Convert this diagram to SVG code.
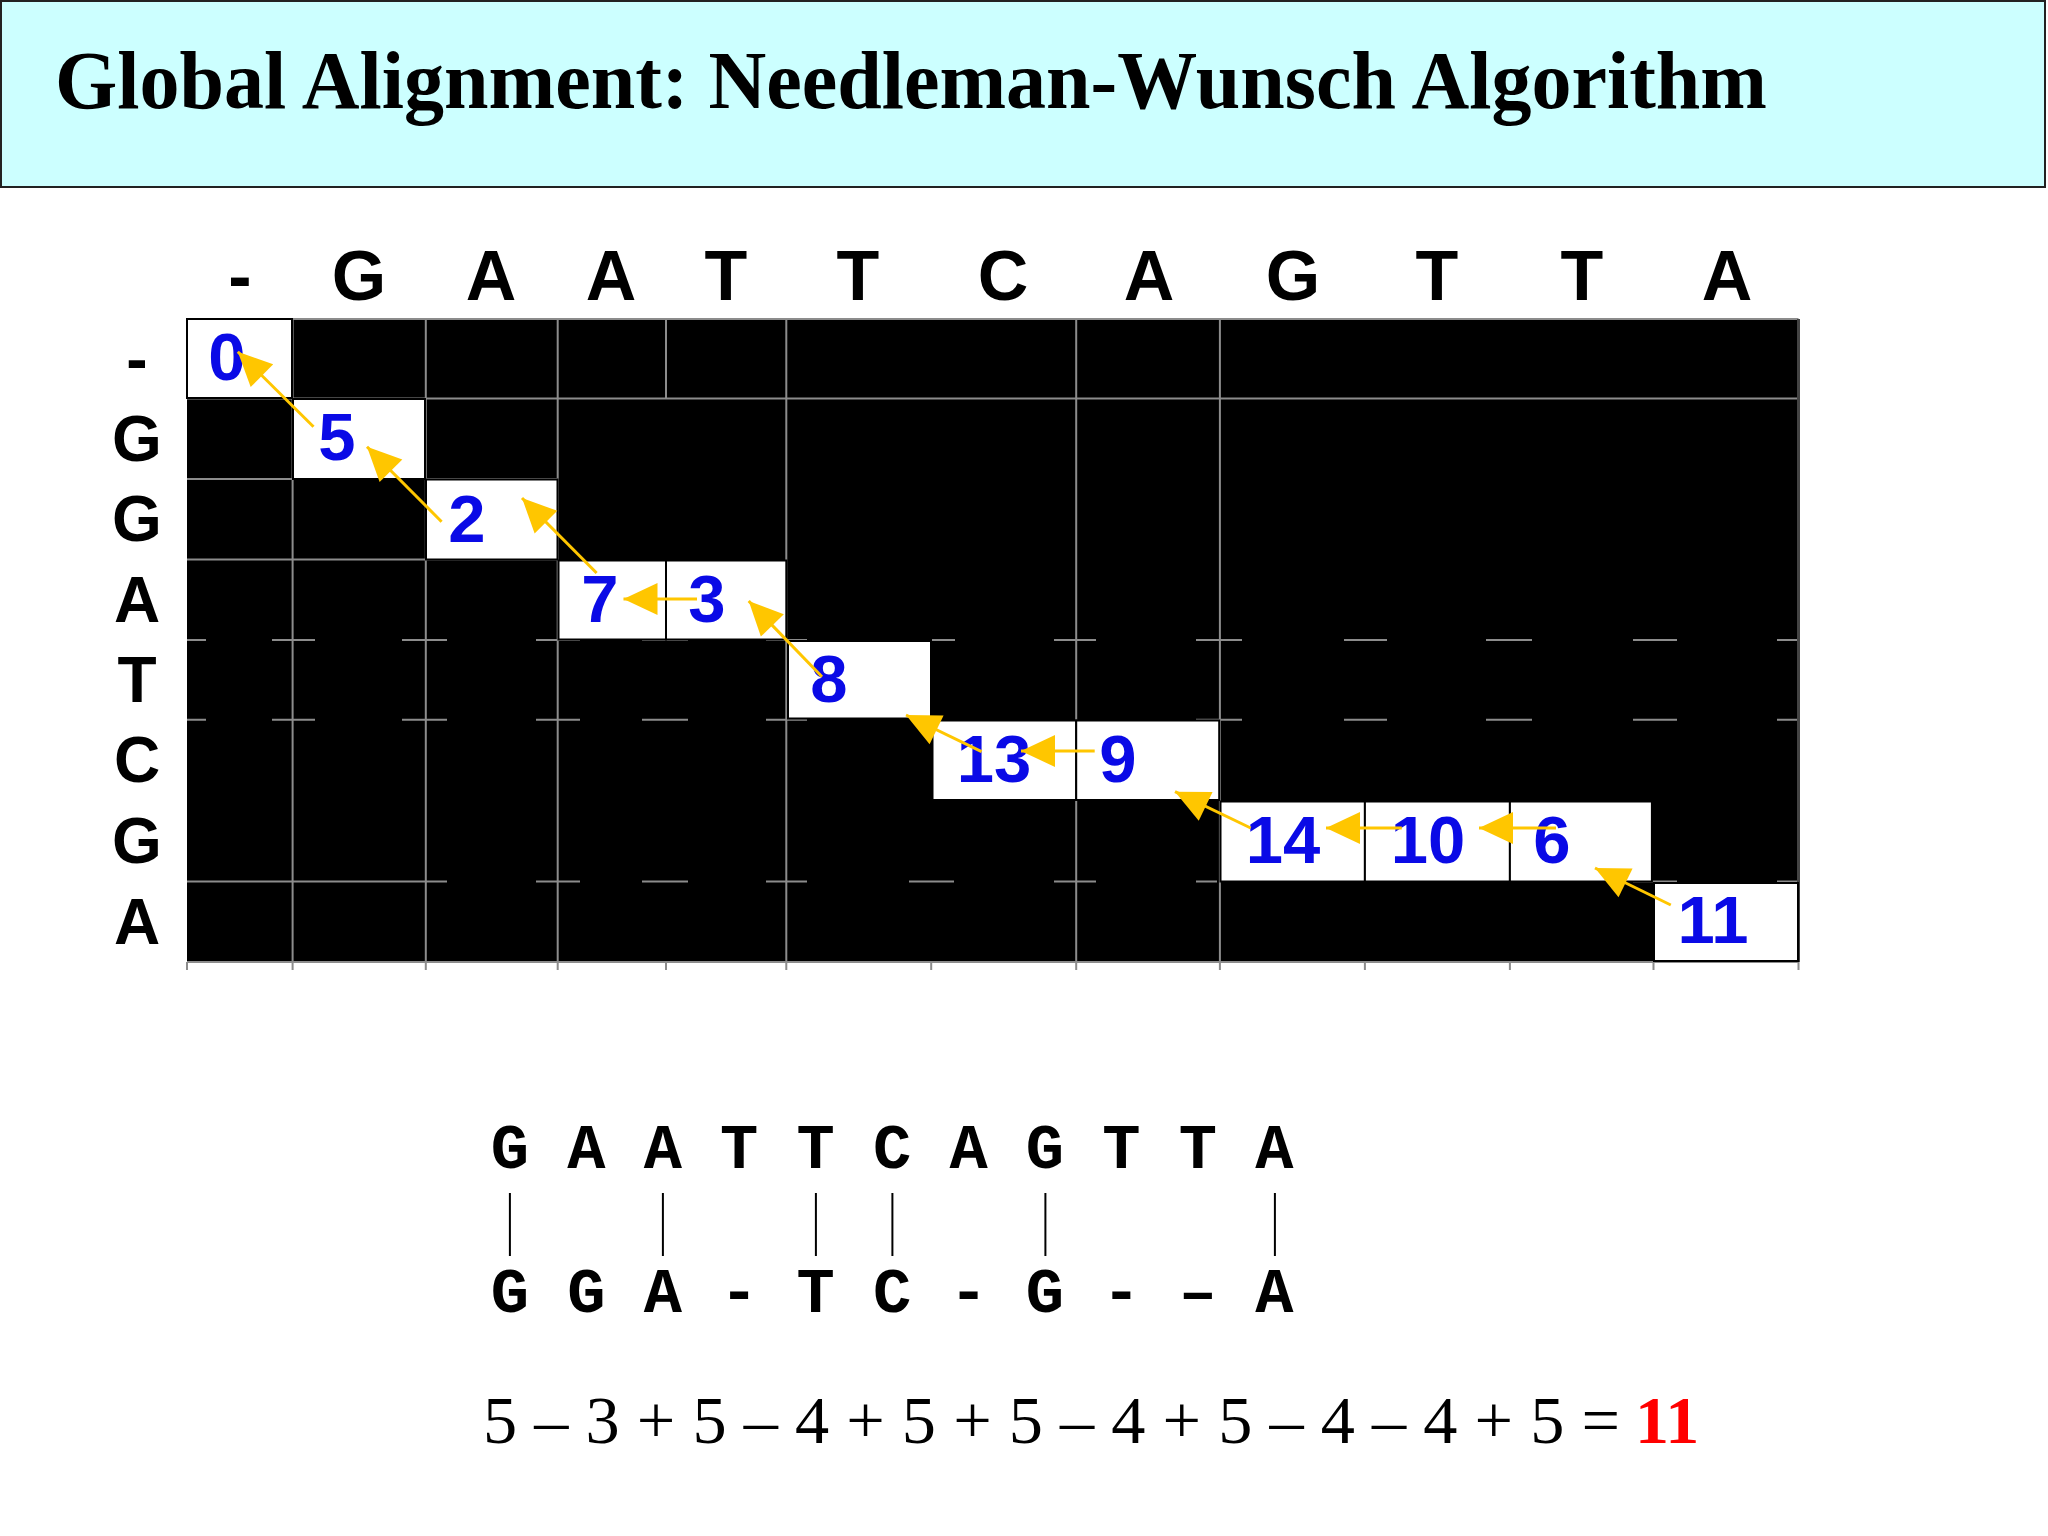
<svg xmlns="http://www.w3.org/2000/svg" width="2048" height="1536" viewBox="0 0 2048 1536">
<style>
.hdr{font-family:"Liberation Sans",Arial,sans-serif;font-weight:bold;font-size:70px;fill:#000;text-anchor:middle}
.rhdr{font-family:"Liberation Sans",Arial,sans-serif;font-weight:bold;font-size:64px;fill:#000;text-anchor:middle}
.num{font-family:"Liberation Sans",Arial,sans-serif;font-weight:bold;font-size:67px;fill:#0a0ae6;text-anchor:middle}
.cell{fill:#fff;stroke:#000;stroke-width:2}
.gl{stroke:#8c8c8c;stroke-width:2;fill:none}
.arr{stroke:#ffc600;stroke-width:3;fill:none;marker-end:url(#ah)}
.seq{font-family:"Liberation Mono","Courier New",monospace;font-weight:bold;font-size:63.7px;fill:#000}
.bar{stroke:#000;stroke-width:2}
</style>
<defs>
<marker id="ah" markerUnits="userSpaceOnUse" markerWidth="34" markerHeight="32" refX="34" refY="16" orient="auto" overflow="visible">
<path d="M0,0 L34,16 L0,32 Z" fill="#ffc600"/>
</marker>
</defs>
<rect width="2048" height="1536" fill="#fff"/>
<g id="title">
<rect x="1" y="1" width="2044" height="186" fill="#ccffff" stroke="#222" stroke-width="2"/>
<text x="55" y="108" font-family="'Liberation Serif','Times New Roman',serif" font-weight="bold" font-size="82" textLength="1712" lengthAdjust="spacingAndGlyphs">Global Alignment: Needleman-Wunsch Algorithm</text>
</g>
<g id="col-headers">
<text class="hdr" x="240" y="300">-</text>
<text class="hdr" x="359" y="300">G</text>
<text class="hdr" x="491" y="300">A</text>
<text class="hdr" x="611" y="300">A</text>
<text class="hdr" x="726" y="300">T</text>
<text class="hdr" x="858" y="300">T</text>
<text class="hdr" x="1003" y="300">C</text>
<text class="hdr" x="1149" y="300">A</text>
<text class="hdr" x="1293" y="300">G</text>
<text class="hdr" x="1437" y="300">T</text>
<text class="hdr" x="1582" y="300">T</text>
<text class="hdr" x="1727" y="300">A</text>
</g>
<g id="row-headers">
<text class="rhdr" x="137" y="381">-</text>
<text class="rhdr" x="137" y="461">G</text>
<text class="rhdr" x="137" y="541">G</text>
<text class="rhdr" x="137" y="622">A</text>
<text class="rhdr" x="137" y="702">T</text>
<text class="rhdr" x="137" y="782">C</text>
<text class="rhdr" x="137" y="863">G</text>
<text class="rhdr" x="137" y="944">A</text>
</g>
<g id="grid">
<rect x="187" y="319" width="1611.5" height="643" fill="#000"/>
<path class="gl" d="M187,319H1798.5M187,398.4H1798.5M187,479H557.7M187,559.5H557.7M187,962H1798.5
M292.6,319V962M425.8,319V962M557.7,319V962M786.3,319V962M1076.2,319V962M1219.9,319V962M666,319V398.4
M187,962V970M292.6,962V970M425.8,962V970M557.7,962V970M666,962V970M786.3,962V970M931.2,962V970M1076.2,962V970M1219.9,962V970M1364.9,962V970M1509.9,962V970M1653.5,962V970M1798.5,962V970
M187,640H206M272,640H315M402,640H447M536,640H580M642,640H688M766,640H807M932,640H955M1054,640H1096M1196,640H1242M1344,640H1387M1486,640H1532M1633,640H1677M1777,640H1798
M187,719.7H206M272,719.7H315M402,719.7H447M536,719.7H580M642,719.7H688M766,719.7H807M1196,719.7H1242M1344,719.7H1387M1486,719.7H1532M1633,719.7H1677M1777,719.7H1798
M187,881.6H447M536,881.6H580M642,881.6H688M766,881.6H807M909,881.6H954M1054,881.6H1096M1196,881.6H1217M1633,881.6H1677M1777,881.6H1798"/>
<path d="M1798.5,319V962" stroke="#444" stroke-width="3"/>
</g>
<g id="cell-0"><rect class="cell" x="187" y="319" width="105" height="79"/><text class="num" x="227" y="380">0</text></g>
<g id="cell-5"><rect class="cell" x="293" y="399" width="132" height="80"/><text class="num" x="337" y="460">5</text></g>
<g id="cell-2"><rect class="cell" x="426" y="479.5" width="131.5" height="80"/><text class="num" x="467" y="542">2</text></g>
<g id="cell-7"><rect class="cell" x="558.5" y="560.5" width="107.5" height="79"/><text class="num" x="600" y="622">7</text></g>
<g id="cell-3"><rect class="cell" x="666" y="560.5" width="120.3" height="79"/><text class="num" x="707" y="622">3</text></g>
<g id="cell-8"><rect class="cell" x="788" y="641" width="143" height="77.5"/><text class="num" x="829" y="702">8</text></g>
<g id="cell-13"><rect class="cell" x="932.5" y="720.5" width="143.7" height="79.5"/><text class="num" x="994" y="782">13</text></g>
<g id="cell-9"><rect class="cell" x="1076.2" y="720.5" width="143" height="79.5"/><text class="num" x="1118" y="782">9</text></g>
<g id="cell-14"><rect class="cell" x="1220.5" y="801.5" width="144.4" height="80"/><text class="num" x="1283" y="863">14</text></g>
<g id="cell-10"><rect class="cell" x="1364.9" y="801.5" width="145" height="80"/><text class="num" x="1428" y="863">10</text></g>
<g id="cell-6"><rect class="cell" x="1509.9" y="801.5" width="142" height="80"/><text class="num" x="1552" y="863">6</text></g>
<g id="cell-11"><rect class="cell" x="1654" y="883" width="144" height="78"/><text class="num" x="1713" y="943">11</text></g>
<g id="connectors">
<line class="arr" x1="313.5" y1="426.7" x2="237.8" y2="351.7"/>
<line class="arr" x1="441.6" y1="521.7" x2="367" y2="446.7"/>
<line class="arr" x1="596.6" y1="573" x2="522" y2="498"/>
<line class="arr" x1="697" y1="599" x2="623.5" y2="599"/>
<line class="arr" x1="822" y1="676.7" x2="748.7" y2="601"/>
<line class="arr" x1="981.6" y1="751.7" x2="906" y2="715"/>
<line class="arr" x1="1094.7" y1="751" x2="1021" y2="751"/>
<line class="arr" x1="1250.7" y1="828" x2="1175" y2="791.7"/>
<line class="arr" x1="1401.8" y1="828" x2="1326" y2="828"/>
<line class="arr" x1="1556" y1="828" x2="1479" y2="828"/>
<line class="arr" x1="1670.8" y1="905" x2="1595" y2="868"/>
</g>
<g id="alignment">
<text class="seq" x="490.8" y="1168">G A A T T C A G T T A</text>
<line class="bar" x1="509.9" y1="1193" x2="509.9" y2="1256"/>
<line class="bar" x1="662.9" y1="1193" x2="662.9" y2="1256"/>
<line class="bar" x1="815.9" y1="1193" x2="815.9" y2="1256"/>
<line class="bar" x1="892.4" y1="1193" x2="892.4" y2="1256"/>
<line class="bar" x1="1045.4" y1="1193" x2="1045.4" y2="1256"/>
<line class="bar" x1="1274.9" y1="1193" x2="1274.9" y2="1256"/>
<text class="seq" x="490.8" y="1312">G G A - T C - G - – A</text>
</g>
<g id="score">
<text x="483" y="1443" font-family="'Liberation Serif','Times New Roman',serif" font-size="68" textLength="1137" lengthAdjust="spacingAndGlyphs">5 – 3 + 5 – 4 + 5 + 5 – 4 + 5 – 4 – 4 + 5 =</text>
<text x="1635" y="1443" font-family="'Liberation Serif','Times New Roman',serif" font-size="68" font-weight="bold" fill="#ff0000">11</text>
</g>
</svg>
